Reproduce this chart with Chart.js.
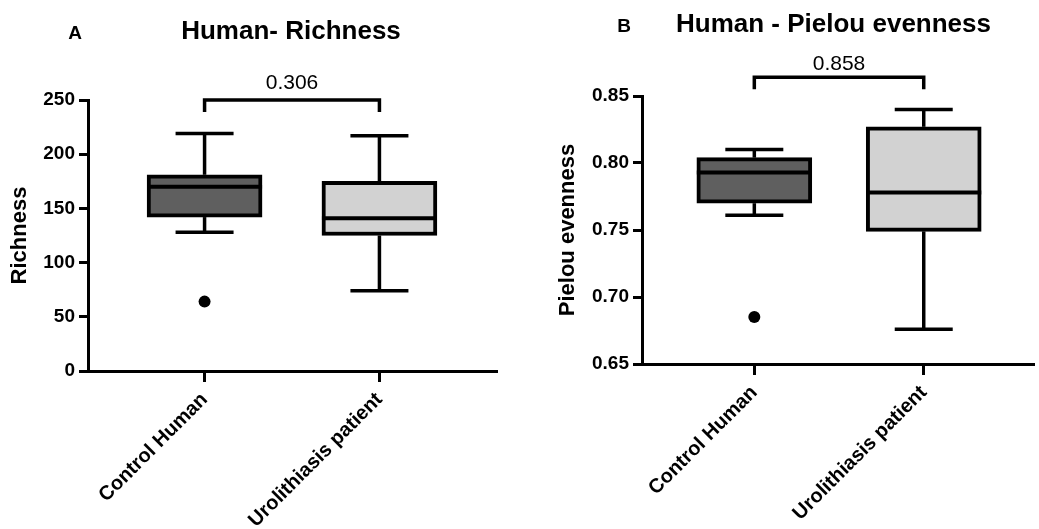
<!DOCTYPE html>
<html><head><meta charset="utf-8">
<script src="https://cdn.jsdelivr.net/npm/chart.js@4.4.0/dist/chart.umd.min.js"></script>
<style>
html,body{margin:0;padding:0;background:#fff;width:1039px;height:529px;overflow:hidden}
#wrap{position:relative;width:1039px;height:529px;background:#fff}
#c1{position:absolute;left:0;top:0}
#c2{position:absolute;left:520px;top:0}
</style></head><body>
<div id="wrap"><canvas id="c1" width="520" height="529"></canvas><canvas id="c2" width="519" height="529"></canvas></div>
<script>
// ---- data ----
const categories = ['Control Human', 'Urolithiasis patient'];
const groupX = [1, 2];
const boxColors = ['#5f5f5f', '#d2d2d2'];

// Panel A: Richness
const richMin = [128, 74];
const richQ1 = [142, 125];
const richMedian = [170, 141];
const richQ3 = [181, 175];
const richMax = [219, 217];
const richOutlierGroup = [0];
const richOutlierValue = [64];
const richTicks = [0, 50, 100, 150, 200, 250];
const richTickLabels = ['0', '50', '100', '150', '200', '250'];
const richP = '0.306';

// Panel B: Pielou evenness
const pielouMin = [0.761, 0.676];
const pielouQ1 = [0.770, 0.749];
const pielouMedian = [0.793, 0.778];
const pielouQ3 = [0.804, 0.827];
const pielouMax = [0.810, 0.840];
const pielouOutlierGroup = [0];
const pielouOutlierValue = [0.685];
const pielouTicks = [0.65, 0.70, 0.75, 0.80, 0.85];
const pielouTickLabels = ['0.65', '0.70', '0.75', '0.80', '0.85'];
const pielouP = '0.858';

const FONT = '"Liberation Sans", Arial, Helvetica, sans-serif';

const boxPlugin = {
  id: 'boxWhiskers',
  afterDatasetsDraw(chart, args, o) {
    const {ctx, scales: {x, y}} = chart;
    ctx.save();
    ctx.strokeStyle = '#000';
    ctx.lineCap = 'butt';
    const line = (a, b, c, d) => { ctx.beginPath(); ctx.moveTo(a, b); ctx.lineTo(c, d); ctx.stroke(); };
    for (let i = 0; i < groupX.length; i++) {
      const px = x.getPixelForValue(groupX[i]);
      const yMin = y.getPixelForValue(o.min[i]);
      const yQ1 = y.getPixelForValue(o.q1[i]);
      const yMed = y.getPixelForValue(o.median[i]);
      const yQ3 = y.getPixelForValue(o.q3[i]);
      const yMax = y.getPixelForValue(o.max[i]);
      ctx.lineWidth = 3.5;
      line(px, yQ3, px, yMax);
      line(px - o.capWidth / 2, yMax, px + o.capWidth / 2, yMax);
      line(px, yQ1, px, yMin);
      line(px - o.capWidth / 2, yMin, px + o.capWidth / 2, yMin);
      ctx.lineWidth = 4;
      line(px - o.boxWidth / 2, yMed, px + o.boxWidth / 2, yMed);
    }
    ctx.restore();
  }
};

const textPlugin = {
  id: 'panelText',
  afterDraw(chart, args, o) {
    const {ctx, chartArea, scales: {x, y}} = chart;
    ctx.save();
    ctx.fillStyle = '#000';
    ctx.textAlign = 'center';
    ctx.textBaseline = 'alphabetic';
    ctx.font = 'bold 26px ' + FONT;
    ctx.fillText(o.title, (chartArea.left + chartArea.right) / 2 + o.titleDx, o.titleY);
    ctx.font = 'bold 19px ' + FONT;
    ctx.fillText(o.letter, o.letterX, o.titleY);
    const x1 = x.getPixelForValue(groupX[0]);
    const x2 = x.getPixelForValue(groupX[1]);
    const yt = y.getPixelForValue(o.bracketTop);
    const yl = y.getPixelForValue(o.bracketLeg);
    ctx.strokeStyle = '#000';
    ctx.lineWidth = 3.5;
    ctx.lineJoin = 'miter';
    ctx.beginPath();
    ctx.moveTo(x1, yl); ctx.lineTo(x1, yt); ctx.lineTo(x2, yt); ctx.lineTo(x2, yl);
    ctx.stroke();
    ctx.font = '21px ' + FONT;
    ctx.fillText(o.pText, (x1 + x2) / 2, yt - o.pGap);
    ctx.restore();
  }
};

function makeChart(canvas, c) {
  return new Chart(canvas, {
    type: 'bar',
    data: {
      datasets: [
        {
          type: 'bar',
          data: c.q1.map((q, i) => ({x: groupX[i], y: [q, c.q3[i]]})),
          backgroundColor: boxColors,
          borderColor: '#000',
          borderWidth: 4,
          borderSkipped: false,
          barThickness: 115,
          order: 2
        },
        {
          type: 'scatter',
          data: c.outGroup.map((g, i) => ({x: groupX[g], y: c.outValue[i]})),
          pointRadius: 6,
          pointBackgroundColor: '#000',
          pointBorderWidth: 0,
          order: 1
        }
      ]
    },
    options: {
      responsive: false,
      animation: false,
      events: [],
      layout: {padding: {top: c.padTop, right: c.padRight, bottom: 0, left: 0}},
      plugins: {
        legend: {display: false},
        tooltip: {enabled: false},
        boxWhiskers: {min: c.min, q1: c.q1, median: c.median, q3: c.q3, max: c.max, capWidth: 58, boxWidth: 115},
        panelText: c.text
      },
      scales: {
        x: {
          type: 'linear',
          min: c.xMin,
          max: c.xMax,
          offset: false,
          afterBuildTicks: s => { s.ticks = groupX.map(v => ({value: v})); },
          afterFit: s => { s.height = c.xHeight; },
          ticks: {
            autoSkip: false,
            minRotation: 45,
            maxRotation: 45,
            padding: 6,
            color: '#000',
            font: {family: FONT, size: 20, weight: 'bold'},
            callback: v => categories[groupX.indexOf(v)]
          },
          grid: {display: true, offset: false, drawOnChartArea: false, drawTicks: true, tickLength: 11, lineWidth: 3, color: '#000'},
          border: {display: true, width: 3, color: '#000'}
        },
        y: {
          type: 'linear',
          min: c.ticks[0],
          max: c.ticks[c.ticks.length - 1],
          afterBuildTicks: s => { s.ticks = c.ticks.map(v => ({value: v})); },
          afterFit: s => { s.width = c.yWidth; },
          ticks: {
            padding: 4,
            color: '#000',
            font: {family: FONT, size: 19, weight: 'bold'},
            callback: v => c.tickLabels[c.ticks.indexOf(v)]
          },
          grid: {display: true, drawOnChartArea: false, drawTicks: true, tickLength: 9, lineWidth: 3, color: '#000'},
          border: {display: true, width: 3, color: '#000'},
          title: {display: true, text: c.yTitle, color: '#000', font: {family: FONT, size: 22, weight: 'bold'}, padding: {top: c.yTitlePad, bottom: 0}}
        }
      }
    },
    plugins: [boxPlugin, textPlugin]
  });
}

makeChart(document.getElementById('c1'), {
  min: richMin, q1: richQ1, median: richMedian, q3: richQ3, max: richMax,
  outGroup: richOutlierGroup, outValue: richOutlierValue,
  ticks: richTicks, tickLabels: richTickLabels,
  yTitle: 'Richness', yTitlePad: 7,
  padTop: 100, padRight: 24, xHeight: 158, yWidth: 88, xMin: 1 / 3, xMax: 8 / 3,
  text: {title: 'Human- Richness', titleDx: -1, titleY: 39, letter: 'A', letterX: 75,
         bracketTop: 250, bracketLeg: 239, pText: richP, pGap: 11}
});

makeChart(document.getElementById('c2'), {
  min: pielouMin, q1: pielouQ1, median: pielouMedian, q3: pielouQ3, max: pielouMax,
  outGroup: pielouOutlierGroup, outValue: pielouOutlierValue,
  ticks: pielouTicks, tickLabels: pielouTickLabels,
  yTitle: 'Pielou evenness', yTitlePad: 35,
  padTop: 96, padRight: 0, xHeight: 165, yWidth: 122, xMin: 0.337, xMax: 2.645,
  text: {title: 'Human - Pielou evenness', titleDx: -4, titleY: 32, letter: 'B', letterX: 104,
         bracketTop: 0.864, bracketLeg: 0.855, pText: pielouP, pGap: 7}
});
</script>
</body></html>
